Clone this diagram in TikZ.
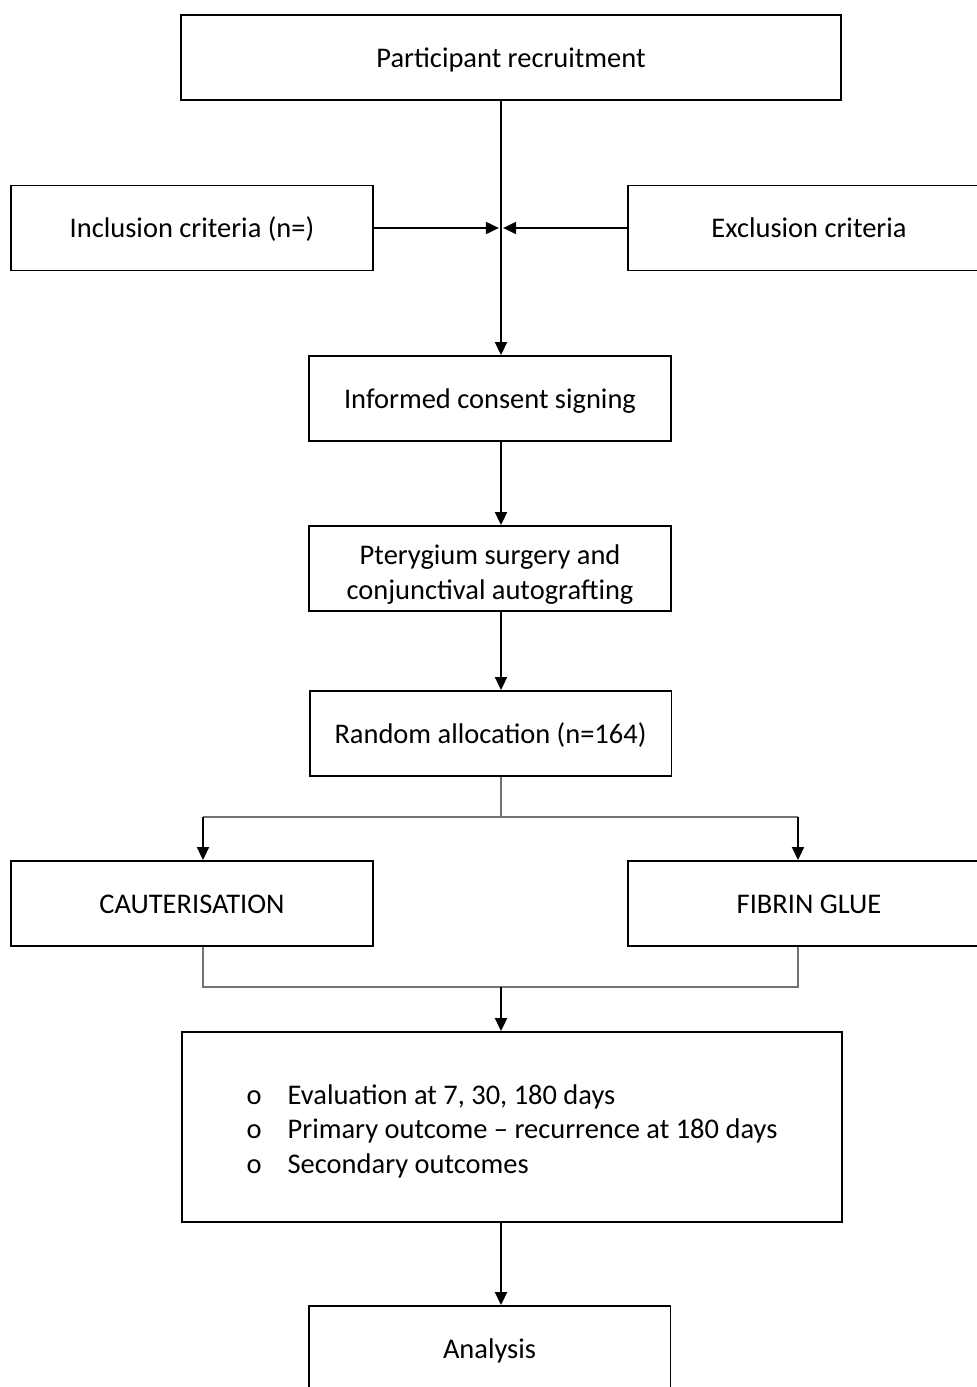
\documentclass[tikz,border=0pt]{standalone}
\usepackage{fontspec}
\setmainfont{Carlito}
\usetikzlibrary{arrows.meta,positioning,calc}

\begin{document}
\begin{tikzpicture}[x=0.02cm, y=-0.02cm,
  every node/.style={font=\fontsize{16.2}{19.6}\selectfont},
  stage/.style={draw=black, line width=1.1pt, minimum width=7.24cm, minimum height=1.7cm, inner sep=0pt, align=center, text height=11pt, text depth=0pt},
  wide/.style={stage, minimum width=13.2cm},
  flow/.style={line width=1.1pt, -{Triangle[length=2.6mm, width=2.4mm]}},
  split/.style={line width=0.75pt, draw=black!55}]

  \clip (0,0) rectangle (977,1387);

  % boxes
  \node (recruit) [wide] at (511,57.5) {Participant recruitment};
  \node (inclusion) [stage] at (192,228) {Inclusion criteria (n=)};
  \node (exclusion) [stage] at (809,228) {Exclusion criteria};
  \node (consent) [stage] at (490,398.5) {Informed consent signing};
  \node (surgery) [stage] at (490,568.5) {};
  \node (random) [stage] at (490.5,733.5) {Random allocation (n=164)};
  \node (cautery) [stage] at (192,903.5) {CAUTERISATION};
  \node (fibrin) [stage] at (809,903.5) {FIBRIN GLUE};
  \node (outcomes) [draw=black, line width=1.1pt, minimum width=13.2cm, minimum height=3.8cm, inner sep=0pt, align=left] at (512,1127)
    {\rule{0pt}{16pt}\makebox[0.82cm][l]{o}Evaluation at 7, 30, 180 days\\
     \makebox[0.82cm][l]{o}Primary outcome -- recurrence at 180 days\\
     \makebox[0.82cm][l]{o}Secondary outcomes};
  \node (analysis) [stage] at (489.5,1348.5) {Analysis};

  % text of the surgery box, cut short above its border
  \begin{scope}
    \clip (surgery.north west) rectangle (surgery.east |- 0,603);
    \node (surgerytext) [align=center, inner sep=0pt] at (490,574.5)
      {Pterygium surgery and\\conjunctival autografting};
  \end{scope}

  % junctions
  \coordinate (spine) at (501,228);
  \coordinate (fork) at (501,817);
  \coordinate (forkL) at (203,817);
  \coordinate (forkR) at (798,817);
  \coordinate (join) at (501,987);
  \coordinate (joinL) at (203,987);
  \coordinate (joinR) at (798,987);

  \draw [flow] (recruit.south -| spine) -- (consent.north -| spine);
  \draw [flow, shorten >=1.2pt] (inclusion.east) -- (spine);
  \draw [flow, shorten >=1.2pt] (exclusion.west) -- (spine);
  \draw [flow] (consent.south -| spine) -- (surgery.north -| spine);
  \draw [flow] (surgery.south -| spine) -- (random.north -| spine);
  \draw [split] (random.south -| fork) -- (fork);
  \draw [split] (forkL) -- (forkR);
  \draw [flow] (forkL) -- (forkL |- cautery.north);
  \draw [flow] (forkR) -- (forkR |- fibrin.north);
  \draw [split] (cautery.south -| joinL) -- (joinL) -- (joinR) -- (fibrin.south -| joinR);
  \draw [flow] (join) -- (outcomes.north -| join);
  \draw [flow] (outcomes.south -| join) -- (analysis.north -| join);
\end{tikzpicture}
\end{document}
